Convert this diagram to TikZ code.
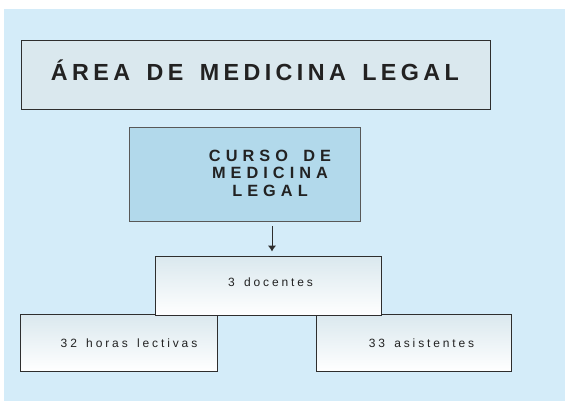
\documentclass[tikz,border=0pt]{standalone}
\usepackage{fontspec}
\usetikzlibrary{arrows.meta}
\setmainfont{Liberation Sans}
\newfontfamily\titulofont[LetterSpace=19,WordSpace=1.5]{Liberation Sans}
\newfontfamily\cursofont[LetterSpace=31,WordSpace=1.6]{Liberation Sans}
\newfontfamily\cajafont[LetterSpace=24,WordSpace=1.5]{Liberation Sans}
\definecolor{fondo}{HTML}{D4ECF9}
\definecolor{cajagris}{HTML}{DAE8EE}
\definecolor{cajaazul}{HTML}{B2D9EB}
\definecolor{borde}{HTML}{2E2E2E}
\definecolor{texto}{HTML}{222222}
\tikzset{
  caja/.style={draw=borde, line width=1pt, inner sep=0pt, rectangle},
  degradado/.style={caja, top color=cajagris, bottom color=white},
  rotulo/.style={anchor=base, inner sep=0pt, text=texto, font=\cajafont\fontsize{12}{14}\selectfont},
  flecha/.style={draw=borde, line width=1pt, -{Latex[length=6pt,width=8.5pt]}}
}
\begin{document}
\begin{tikzpicture}[x=1pt,y=-1pt]
    % Fondo
    \useasboundingbox (0,0) rectangle (565,401);
    \fill[fondo] (4,9) rectangle (565,401);

    % Titulo
    \node[caja, fill=cajagris, minimum width=469pt, minimum height=69pt] (area) at (255.5,75.5) {};
    \node[anchor=base, inner sep=0pt, text=texto, font=\titulofont\bfseries\fontsize{23.3}{28}\selectfont] (area-txt) at (255,80.7) {ÁREA DE MEDICINA LEGAL};

    % Curso
    \node[caja, draw=borde!80, fill=cajaazul, minimum width=231pt, minimum height=94pt] (curso) at (244.5,174.6) {};
    \node[inner sep=0pt, align=center, text=texto, font=\cursofont\bfseries\fontsize{16.3}{17.4}\selectfont] (curso-txt) at (270,173) {CURSO DE\\MEDICINA\\LEGAL};

    % Cajas inferiores
    \node[degradado, minimum width=196.7pt, minimum height=57pt] (horas) at (119.3,342.5) {};
    \node[degradado, minimum width=195pt, minimum height=57pt] (asist) at (413.5,342.5) {};
    \node[degradado, minimum width=226pt, minimum height=59pt] (docentes) at (268,286) {};

    % Textos de las cajas
    \node[rotulo] (docentes-txt) at (270.5,286.7) {3 docentes};
    \node[rotulo] (horas-txt) at (129,347.7) {32 horas lectivas};
    \node[rotulo] (asist-txt) at (421.5,347.7) {33 asistentes};

    % Flecha
    \draw[flecha, shorten <=4pt, shorten >=4.5pt] ([xshift=27.5pt]curso.south) -- ([xshift=27.5pt]curso.south |- docentes.north);
\end{tikzpicture}
\end{document}
